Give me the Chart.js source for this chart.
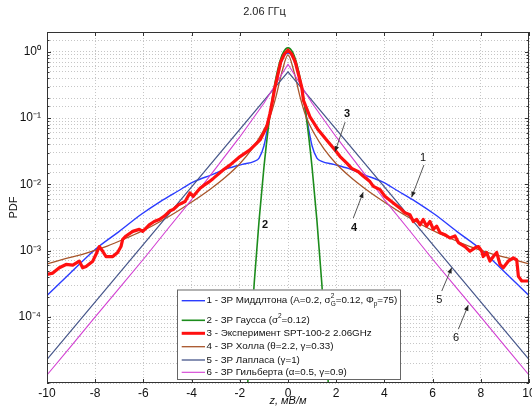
<!DOCTYPE html>
<html lang="ru">
<head>
<meta charset="UTF-8">
<title>2.06 ГГц</title>
<script src="https://cdn.jsdelivr.net/npm/chart.js"></script>
<style>
  html, body { margin: 0; padding: 0; background: #fff; }
</style>
</head>
<body>
<canvas id="pdfChart" width="532" height="408"></canvas>
<script>
// ---- значения ----
const xTicks = [-10, -8, -6, -4, -2, 0, 2, 4, 6, 8, 10];
const yDecades = [1, 0.1, 0.01, 0.001, 0.0001];
const yTickLabels = ['10⁰', '10⁻¹', '10⁻²', '10⁻³', '10⁻⁴'];

const seriesNames = [
  '1 - ЗР Миддлтона', '2 - ЗР Гаусса', '3 - Эксперимент SPT-100-2 2.06GHz',
  '4 - ЗР Холла', '5 - ЗР Лапласа', '6 - ЗР Гильберта'
];

// 1 - Middleton
const middletonX = [-10, -9, -8, -7, -6.1, -5.3, -4.6, -3.9, -3.2, -2.5, -1.9, -1.4, -1.2, -1.0, -0.8, -0.6, -0.4, -0.2, 0,
  0.2, 0.4, 0.6, 0.8, 1.0, 1.2, 1.4, 1.9, 2.5, 3.2, 3.9, 4.6, 5.3, 6.1, 7, 8, 9, 10];
const middletonY = [2.1e-4, 4.7e-4, 1.04e-3, 1.95e-3, 3.5e-3, 5.5e-3, 7.8e-3, 0.011, 0.0138, 0.0174, 0.020, 0.0223, 0.025, 0.038, 0.089, 0.234, 0.50, 0.82, 0.96,
  0.82, 0.50, 0.234, 0.089, 0.038, 0.025, 0.0223, 0.020, 0.0174, 0.0138, 0.011, 7.8e-3, 5.5e-3, 3.5e-3, 1.95e-3, 1.04e-3, 4.7e-4, 2.1e-4];

// 2 - Gauss
const gaussX = [-1.8, -1.6, -1.4, -1.2, -1.0, -0.8, -0.6, -0.4, -0.2, 0, 0.2, 0.4, 0.6, 0.8, 1.0, 1.2, 1.4, 1.6, 1.8];
const gaussY = [1.6e-6, 2.7e-5, 3.3e-4, 2.85e-3, 0.0178, 0.080, 0.257, 0.59, 0.973, 1.15, 0.973, 0.59, 0.257, 0.080, 0.0178, 2.85e-3, 3.3e-4, 2.7e-5, 1.6e-6];

// 3 - experiment
const expX = [-10.0, -9.76, -9.49, -9.21, -8.93, -8.66, -8.52, -8.38, -8.10, -7.97,
  -7.83, -7.69, -7.55, -7.27, -7.07, -6.93, -6.86, -6.72, -6.44, -6.17,
  -6.03, -5.89, -5.76, -5.55, -5.34, -5.13,
  -4.90, -4.76, -4.55, -4.27, -4.07, -3.93, -3.65, -3.51, -3.31, -3.10,
  -2.68, -2.41, -1.99, -1.58, -1.16, -0.88, -0.75, -0.64, -0.54, -0.30, -0.15,
  0, 0.15,
  0.30, 0.57, 0.64, 0.91, 1.26, 1.67, 1.95, 2.16, 2.44, 2.64,
  2.92, 3.13, 3.40, 3.54, 3.82, 4.02, 4.37, 4.65, 4.85, 5.06,
  5.20, 5.34, 5.48, 5.61, 5.75, 5.89, 6.03, 6.17, 6.31, 6.51,
  6.72, 6.93, 7.07, 7.34, 7.55, 7.76, 7.90, 8.04, 8.10, 8.24,
  8.38, 8.52, 8.66, 8.80, 8.93, 9.14, 9.35, 9.49, 9.56, 9.70, 10.0];
const expY = [4.37e-4, 4.57e-4, 5.50e-4, 6.17e-4, 6.03e-4, 6.92e-4, 5.50e-4, 5.75e-4, 6.92e-4, 8.71e-4,
  1.15e-3, 9.77e-4, 8.13e-4, 8.13e-4, 9.33e-4, 1.15e-3, 1.48e-3, 1.66e-3, 1.95e-3, 2.09e-3,
  1.95e-3, 2.19e-3, 2.45e-3, 2.75e-3, 2.95e-3, 3.31e-3,
  3.98e-3, 4.17e-3, 4.90e-3, 5.50e-3, 7.41e-3, 6.61e-3, 8.71e-3, 9.55e-3, 0.0107, 0.0123,
  0.0166, 0.0195, 0.0263, 0.0331, 0.0468, 0.0741, 0.117, 0.186, 0.295, 0.708, 0.93,
  1.07, 0.93,
  0.708, 0.295, 0.186, 0.105, 0.066, 0.0437, 0.0331, 0.0263, 0.0209, 0.0174,
  0.0155, 0.0132, 0.011, 9.33e-3, 8.32e-3, 6.61e-3, 5.25e-3, 4.37e-3, 3.72e-3, 3.47e-3,
  2.75e-3, 2.95e-3, 2.45e-3, 2.95e-3, 2.34e-3, 2.75e-3, 2.09e-3, 2.34e-3, 1.86e-3, 1.74e-3,
  1.55e-3, 1.66e-3, 1.32e-3, 1.15e-3, 9.77e-4, 1.10e-3, 1.15e-3, 9.77e-4, 8.13e-4, 9.33e-4,
  6.92e-4, 8.13e-4, 9.33e-4, 6.17e-4, 5.50e-4, 6.92e-4, 7.76e-4, 7.24e-4, 4.07e-4, 3.47e-4, 3.47e-4];

// 4 - Hall
const hallX = [-10, -9.2, -8.4, -7.5, -6.7, -5.9, -5.3, -4.6, -3.9, -3.2, -2.6, -2.0, -1.5, -1.1, -0.75, -0.5, -0.25, 0,
  0.25, 0.5, 0.75, 1.1, 1.5, 2.0, 2.6, 3.2, 3.9, 4.6, 5.3, 5.9, 6.7, 7.5, 8.4, 9.2, 10];
const hallY = [6.3e-4, 7.6e-4, 9.1e-4, 1.17e-3, 1.55e-3, 2.1e-3, 2.75e-3, 3.9e-3, 5.7e-3, 8.6e-3, 0.0128, 0.0205, 0.034, 0.0575, 0.105, 0.21, 0.5, 0.9,
  0.5, 0.21, 0.105, 0.0575, 0.034, 0.0205, 0.0128, 8.6e-3, 5.7e-3, 3.9e-3, 2.75e-3, 2.1e-3, 1.55e-3, 1.17e-3, 9.1e-4, 7.6e-4, 6.3e-4];

// 5 - Laplace
const laplaceX = [-10, 0, 10];
const laplaceY = [2.27e-5, 0.5, 2.27e-5];

// 6 - Gilbert
const gilbertX = [-10, -9, -8, -7, -6, -5, -4, -3, -2, -1, 0, 1, 2, 3, 4, 5, 6, 7, 8, 9, 10];
const gilbertY = [1.32e-5, 3.6e-5, 1.0e-4, 2.7e-4, 7.4e-4, 2.1e-3, 5.9e-3, 0.0174, 0.052, 0.168, 0.65,
  0.168, 0.052, 0.0174, 5.9e-3, 2.1e-3, 7.4e-4, 2.7e-4, 1.0e-4, 3.6e-5, 1.32e-5];

// ---- оформление ----
const FONT = '"Liberation Sans", Arial, Helvetica, sans-serif';
const colors = ['#2b3cff', '#1c8c1c', '#ff1010', '#a8552a', '#46568a', '#d23fd2'];

function pts(xs, ys) {
  return xs.map((x, i) => ({ x: x, y: ys[i] }));
}

// подписи легенды с индексами
const legendRows = [
  [{ t: '1 - ЗР Миддлтона (A=0.2, σ' }, { sup: '2', sub: 'G' }, { t: '=0.12, Φ' }, { sub: 'p' }, { t: '=75)' }],
  [{ t: '2 - ЗР Гаусса (σ' }, { sup: '2' }, { t: '=0.12)' }],
  [{ t: '3 - Эксперимент SPT-100-2 2.06GHz' }],
  [{ t: '4 - ЗР Холла (θ=2.2, γ=0.33)' }],
  [{ t: '5 - ЗР Лапласа (γ=1)' }],
  [{ t: '6 - ЗР Гильберта (α=0.5, γ=0.9)' }]
];

// номера кривых со стрелками (в координатах данных)
const callouts = [
  { text: '1', bold: false, at: [5.6, 0.025], from: [5.64, 0.0196], to: [5.13, 6.4e-3] },
  { text: '2', bold: true, at: [-0.95, 2.4e-3] },
  { text: '3', bold: true, at: [2.45, 0.115], from: [2.37, 0.087], to: [1.95, 0.031] },
  { text: '4', bold: true, at: [2.74, 2.2e-3], from: [2.71, 3.1e-3], to: [3.12, 7.6e-3] },
  { text: '5', bold: false, at: [6.28, 1.78e-4], from: [6.38, 2.45e-4], to: [6.79, 5.5e-4] },
  { text: '6', bold: false, at: [6.97, 4.8e-5], from: [7.07, 6.5e-5], to: [7.48, 1.5e-4] }
];

function isDecade(v) {
  return yDecades.findIndex(d => Math.abs(v / d - 1) < 1e-6);
}

const decorations = {
  id: 'decorations',
  afterDatasetsDraw(chart) {
    const { ctx, chartArea: a, scales: { x, y } } = chart;
    ctx.save();

    // рамка и внутренние засечки
    ctx.strokeStyle = '#333';
    ctx.lineWidth = 1;
    ctx.strokeRect(a.left + 0.5, a.top + 0.5, a.right - a.left - 1, a.bottom - a.top - 1);
    ctx.beginPath();
    x.ticks.forEach(t => {
      const px = Math.round(x.getPixelForValue(t.value)) + 0.5;
      ctx.moveTo(px, a.bottom); ctx.lineTo(px, a.bottom - 4);
      ctx.moveTo(px, a.top); ctx.lineTo(px, a.top + 4);
    });
    y.ticks.forEach(t => {
      const py = Math.round(y.getPixelForValue(t.value)) + 0.5;
      const len = isDecade(t.value) >= 0 ? 4 : 2.5;
      ctx.moveTo(a.left, py); ctx.lineTo(a.left + len, py);
      ctx.moveTo(a.right, py); ctx.lineTo(a.right - len, py);
    });
    ctx.stroke();

    // номера кривых
    callouts.forEach(c => {
      if (c.from) {
        const x1 = x.getPixelForValue(c.from[0]), y1 = y.getPixelForValue(c.from[1]);
        const x2 = x.getPixelForValue(c.to[0]), y2 = y.getPixelForValue(c.to[1]);
        ctx.strokeStyle = '#555';
        ctx.lineWidth = 1;
        ctx.beginPath(); ctx.moveTo(x1, y1); ctx.lineTo(x2, y2); ctx.stroke();
        const ang = Math.atan2(y2 - y1, x2 - x1);
        ctx.fillStyle = '#222';
        ctx.beginPath();
        ctx.moveTo(x2, y2);
        ctx.lineTo(x2 - 6 * Math.cos(ang - 0.4), y2 - 6 * Math.sin(ang - 0.4));
        ctx.lineTo(x2 - 6 * Math.cos(ang + 0.4), y2 - 6 * Math.sin(ang + 0.4));
        ctx.closePath(); ctx.fill();
      }
      ctx.fillStyle = '#111';
      ctx.font = (c.bold ? 'bold ' : '') + '11px ' + FONT;
      ctx.textAlign = 'center';
      ctx.textBaseline = 'middle';
      ctx.fillText(c.text, x.getPixelForValue(c.at[0]), y.getPixelForValue(c.at[1]));
    });

    // легенда
    const bx = a.left + 130, by = a.top + 257.5, bw = 223, bh = 89.5;
    ctx.fillStyle = '#fff';
    ctx.fillRect(bx, by, bw, bh);
    ctx.strokeStyle = '#666';
    ctx.lineWidth = 1;
    ctx.strokeRect(bx + 0.5, by + 0.5, bw, bh);
    const rowY = [11.2, 30.8, 43.8, 57.2, 70.5, 82.8];
    chart.data.datasets.forEach((ds, i) => {
      const ry = by + rowY[i];
      ctx.strokeStyle = ds.borderColor;
      ctx.lineWidth = Math.min(ds.borderWidth, 3);
      ctx.beginPath(); ctx.moveTo(bx + 4.7, ry); ctx.lineTo(bx + 28, ry); ctx.stroke();
      let tx = bx + 29.5;
      ctx.fillStyle = '#111';
      ctx.textAlign = 'left';
      ctx.textBaseline = 'middle';
      legendRows[i].forEach(seg => {
        if (seg.t) {
          ctx.font = '9.8px ' + FONT;
          ctx.fillText(seg.t, tx, ry);
          tx += ctx.measureText(seg.t).width;
        } else {
          ctx.font = '6.5px ' + FONT;
          let w = 0;
          if (seg.sup) { ctx.fillText(seg.sup, tx, ry - 4.5); w = Math.max(w, ctx.measureText(seg.sup).width); }
          if (seg.sub) { ctx.fillText(seg.sub, tx, ry + 3.5); w = Math.max(w, ctx.measureText(seg.sub).width); }
          tx += w;
        }
      });
    });

    ctx.restore();
  }
};

const lineBase = { pointRadius: 0, fill: false, borderJoinStyle: 'round' };

new Chart(document.getElementById('pdfChart'), {
  type: 'line',
  data: {
    datasets: [
      Object.assign({ label: seriesNames[0], data: pts(middletonX, middletonY), borderColor: colors[0], borderWidth: 1.4, cubicInterpolationMode: 'monotone', order: 6 }, lineBase),
      Object.assign({ label: seriesNames[1], data: pts(gaussX, gaussY), borderColor: colors[1], borderWidth: 1.6, cubicInterpolationMode: 'monotone', order: 5 }, lineBase),
      Object.assign({ label: seriesNames[2], data: pts(expX, expY), borderColor: colors[2], borderWidth: 3.2, tension: 0, order: 0 }, lineBase),
      Object.assign({ label: seriesNames[3], data: pts(hallX, hallY), borderColor: colors[3], borderWidth: 1.3, cubicInterpolationMode: 'monotone', order: 4 }, lineBase),
      Object.assign({ label: seriesNames[4], data: pts(laplaceX, laplaceY), borderColor: colors[4], borderWidth: 1.3, tension: 0, order: 3 }, lineBase),
      Object.assign({ label: seriesNames[5], data: pts(gilbertX, gilbertY), borderColor: colors[5], borderWidth: 1.1, tension: 0, order: 2 }, lineBase)
    ]
  },
  options: {
    responsive: false,
    animation: false,
    events: [],
    layout: { padding: { left: 0, right: 3, top: 0, bottom: 0 } },
    plugins: {
      legend: { display: false },
      tooltip: { enabled: false },
      title: {
        display: true,
        text: '2.06 ГГц',
        color: '#222',
        font: { family: FONT, size: 11, weight: 'normal' },
        padding: { top: 5, bottom: 13.8 }
      }
    },
    scales: {
      x: {
        type: 'linear',
        min: -10,
        max: 10,
        afterBuildTicks: s => { s.ticks = xTicks.map(v => ({ value: v })); },
        afterFit: s => { s.height = 25; s.paddingLeft = 0; s.paddingRight = 0; },
        grid: { color: '#c6c6c6', lineWidth: 1, drawTicks: false },
        border: { display: false, dash: [1, 2] },
        ticks: { color: '#111', padding: 3, maxRotation: 0, autoSkip: false, font: { family: FONT, size: 12 } },
        title: { display: true, text: 'z, мВ/м', color: '#111', padding: { top: 0, bottom: 0 }, font: { family: FONT, size: 11, style: 'italic' } }
      },
      y: {
        type: 'logarithmic',
        min: 1e-5,
        max: 2,
        afterFit: s => { s.width = 47; s.paddingTop = 0; s.paddingBottom = 0; },
        grid: { color: '#c6c6c6', lineWidth: 1, drawTicks: false },
        border: { display: false, dash: [1, 2] },
        ticks: {
          color: '#111',
          padding: 6,
          autoSkip: false,
          font: { family: FONT, size: 12 },
          callback: v => { const k = isDecade(v); return k >= 0 ? yTickLabels[k] : ''; }
        },
        title: { display: true, text: 'PDF', color: '#111', padding: { top: 7.4, bottom: 0 }, font: { family: FONT, size: 11 } }
      }
    }
  },
  plugins: [decorations]
});
</script>
</body>
</html>
